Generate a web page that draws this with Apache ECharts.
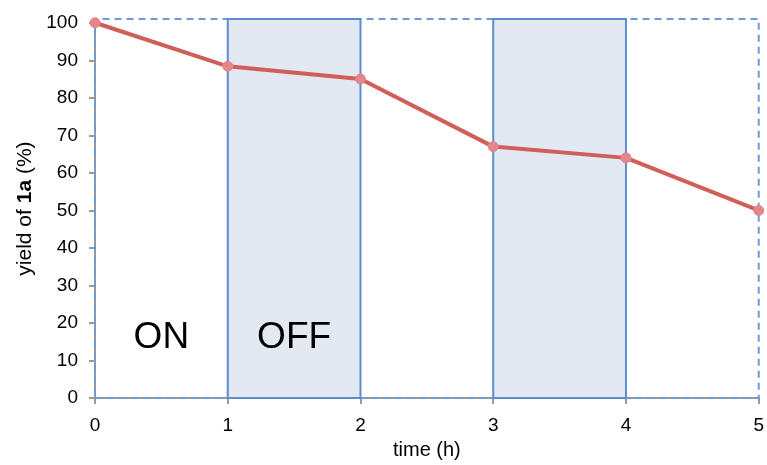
<!DOCTYPE html>
<html>
<head>
<meta charset="utf-8">
<script src="https://cdn.jsdelivr.net/npm/echarts@6/dist/echarts.min.js"></script>
<style>
  html, body { margin: 0; padding: 0; background: #ffffff; }
  #chart { width: 767px; height: 465px; }
</style>
</head>
<body>
<div id="chart"></div>
<script>
// Irradiation time (h) and remaining yield of 1a (%)
const timeHours = [0, 1, 2, 3, 4, 5];
const yieldValues = [100, 88.4, 85, 67, 64, 50];
// Light-off intervals (shaded bands)
const offIntervals = [[1, 2], [3, 4]];
// Phase annotations: [x, y, text]
const phaseLabels = [[0.5, 16, 'ON'], [1.5, 16, 'OFF']];
const yTicks = [0, 10, 20, 30, 40, 50, 60, 70, 80, 90, 100];
const xTicks = [0, 1, 2, 3, 4, 5];

const FONT = '"Liberation Sans", Arial, sans-serif';
const chart = echarts.init(document.getElementById('chart'), null, { renderer: 'canvas' });

const option = {
  backgroundColor: '#ffffff',
  animation: false,
  grid: { left: 95, right: 6, top: 19, bottom: 63, containLabel: false },
  xAxis: {
    type: 'value', min: 0, max: 5, interval: 1,
    name: 'time (h)', nameLocation: 'middle', nameGap: 40,
    nameTextStyle: { fontFamily: FONT, fontSize: 20, color: '#000' },
    axisLine: { show: true, lineStyle: { color: '#999999', width: 2 } },
    axisTick: { show: true, length: 6, lineStyle: { color: '#999999', width: 2 }, customValues: xTicks },
    axisLabel: { fontFamily: FONT, fontSize: 19, color: '#000', margin: 18, customValues: xTicks },
    splitLine: { show: false }
  },
  yAxis: {
    type: 'value', min: 0, max: 101,
    name: '{n|yield of }{b|1a}{n| (%)}', nameLocation: 'middle', nameGap: 58, nameRotate: 90,
    nameTextStyle: {
      fontFamily: FONT, fontSize: 21, color: '#000',
      rich: {
        n: { fontFamily: FONT, fontSize: 21, color: '#000' },
        b: { fontFamily: FONT, fontSize: 21, color: '#000', fontWeight: 'bold' }
      }
    },
    axisLine: { show: true, lineStyle: { color: '#999999', width: 2 } },
    axisTick: { show: true, length: 6, lineStyle: { color: '#999999', width: 2 }, customValues: yTicks },
    axisLabel: { fontFamily: FONT, fontSize: 19, color: '#000', margin: 17, customValues: yTicks },
    splitLine: { show: false }
  },
  series: [
    {
      // shaded "off" bands plus the dashed frame
      type: 'line', data: [], silent: true, z: 1,
      markArea: {
        silent: true,
        data: [
          [
            { xAxis: 0, yAxis: 0, itemStyle: { color: 'rgba(0,0,0,0)', borderColor: '#6a9bd6', borderWidth: 2, borderType: [7, 5] } },
            { xAxis: 5, yAxis: 101 }
          ]
        ].concat(offIntervals.map(function (iv) {
          return [
            { xAxis: iv[0], yAxis: 0, itemStyle: { color: '#e2e9f3', borderColor: '#5b8ed0', borderWidth: 2 } },
            { xAxis: iv[1], yAxis: 101 }
          ];
        }))
      }
    },
    {
      type: 'line', z: 5,
      data: timeHours.map(function (t, i) { return [t, yieldValues[i]]; }),
      lineStyle: { color: '#cf5f58', width: 4 },
      symbol: 'circle', symbolSize: 10,
      itemStyle: { color: '#e4868a', borderColor: '#e4868a' },
      clip: false
    },
    {
      type: 'scatter', z: 6, symbolSize: 0, silent: true,
      itemStyle: { opacity: 1 },
      data: phaseLabels.map(function (p) { return { value: [p[0], p[1]], name: p[2] }; }),
      label: {
        show: true, position: 'inside', formatter: '{b}',
        fontFamily: FONT, fontSize: 37, color: '#000', opacity: 1, textBorderWidth: 0
      }
    }
  ]
};

chart.setOption(option);
</script>
</body>
</html>
